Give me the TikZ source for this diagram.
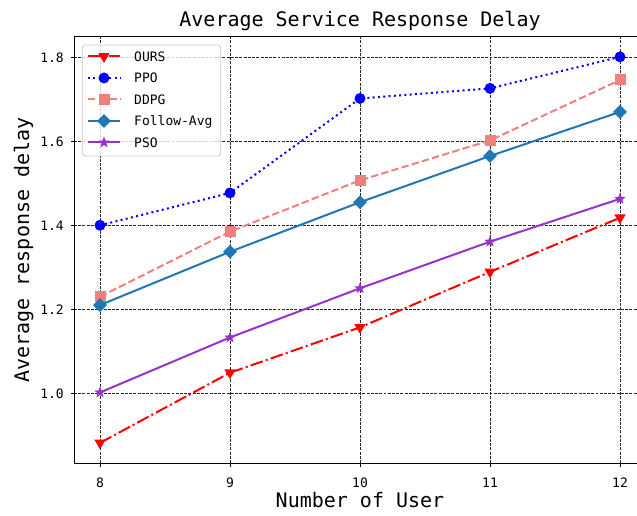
\documentclass[tikz,border=0pt]{standalone}
\usepackage{fontspec}
\setmainfont{DejaVu Sans Mono}
\usetikzlibrary{shapes.geometric,positioning}
\definecolor{tabblue}{RGB}{31,119,180}
\definecolor{lcoral}{RGB}{240,128,128}
\definecolor{dorchid}{RGB}{153,50,204}

\begin{document}
\begin{tikzpicture}[x=1pt,y=1pt,font=\fontsize{13}{15}\selectfont]
\tikzstyle{grd}=[black!85,line width=0.8pt,dash pattern=on 2.96pt off 1.28pt]
\tikzstyle{lours}=[red,line width=2pt,dash pattern=on 12.8pt off 3.2pt on 2pt off 3.2pt]
\tikzstyle{lppo}=[blue,line width=2pt,dash pattern=on 2pt off 3.3pt]
\tikzstyle{lddpg}=[lcoral,line width=2pt,dash pattern=on 7.4pt off 3.2pt]
\tikzstyle{lfa}=[tabblue,line width=2pt]
\tikzstyle{lpso}=[dorchid,line width=2pt]
\tikzstyle{mkours}=[regular polygon,regular polygon sides=3,shape border rotate=180,fill=red,inner sep=0pt,minimum size=13pt]
\tikzstyle{mkppo}=[circle,fill=blue,inner sep=0pt,minimum size=11pt]
\tikzstyle{mkddpg}=[rectangle,fill=lcoral,inner sep=0pt,minimum size=11pt]
\tikzstyle{mkfa}=[diamond,fill=tabblue,inner sep=0pt,minimum size=14pt]
\tikzstyle{mkpso}=[star,star points=5,star point ratio=2.4,fill=dorchid,inner sep=0pt,minimum size=12pt]
\useasboundingbox (0,0) rectangle (637,515);
% grid and tick labels
\foreach \k/\lab in {0/8,1/9,2/10,3/11,4/12}{
  \draw[grd] (100+130*\k,52) -- (100+130*\k,478);
  \draw[line width=0.8pt] (100+130*\k,52) -- (100+130*\k,48.5);
  \node[inner sep=0pt] (xt\k) at (100+130*\k,32) {\lab};}
\foreach \k/\lab in {0/1.0,1/1.2,2/1.4,3/1.6,4/1.8}{
  \draw[grd] (74,121.7+84*\k) -- (637,121.7+84*\k);
  \draw[line width=0.8pt] (74,121.7+84*\k) -- (70.5,121.7+84*\k);
  \node[inner sep=0pt,anchor=east] (yt\k) at (64,121.7+84*\k) {\lab};}
% data
\begin{scope}[x=130pt,y=420pt,xshift=-940pt,yshift=-298.3pt]
\foreach \v [count=\i from 8] in {0.882,1.049,1.157,1.289,1.418} \coordinate (ours\i) at (\i,\v);
\draw[lours] (ours8) -- (ours9) -- (ours10) -- (ours11) -- (ours12);
\foreach \i in {8,...,12} \node[mkours] (oursm\i) at (ours\i) {};
\foreach \v [count=\i from 8] in {1.400,1.477,1.702,1.726,1.801} \coordinate (ppo\i) at (\i,\v);
\draw[lppo] (ppo8) -- (ppo9) -- (ppo10) -- (ppo11) -- (ppo12);
\foreach \i in {8,...,12} \node[mkppo] (ppom\i) at (ppo\i) {};
\foreach \v [count=\i from 8] in {1.230,1.385,1.507,1.602,1.746} \coordinate (ddpg\i) at (\i,\v);
\draw[lddpg] (ddpg8) -- (ddpg9) -- (ddpg10) -- (ddpg11) -- (ddpg12);
\foreach \i in {8,...,12} \node[mkddpg] (ddpgm\i) at (ddpg\i) {};
\foreach \v [count=\i from 8] in {1.210,1.337,1.455,1.565,1.670} \coordinate (fa\i) at (\i,\v);
\draw[lfa] (fa8) -- (fa9) -- (fa10) -- (fa11) -- (fa12);
\foreach \i in {8,...,12} \node[mkfa] (fam\i) at (fa\i) {};
\foreach \v [count=\i from 8] in {1.002,1.133,1.250,1.361,1.463} \coordinate (pso\i) at (\i,\v);
\draw[lpso] (pso8) -- (pso9) -- (pso10) -- (pso11) -- (pso12);
\foreach \i in {8,...,12} \node[mkpso] (psom\i) at (pso\i) {};
\end{scope}
% axes
\draw[line width=1pt] (637,478) -- (74,478) -- (74,52) -- (637,52);
\node[anchor=base,font=\fontsize{20}{24}\selectfont] (title) at (360,488) {Average Service Response Delay};
\node[anchor=base,font=\fontsize{20}{24}\selectfont] (xlab) at (360,8) {Number of User};
\node[anchor=base,rotate=90,font=\fontsize{20}{24}\selectfont] (ylab) at (29,265) {Average response delay};
% legend
\draw[draw=black!20,fill=white,fill opacity=0.8,rounded corners=3pt,line width=0.8pt] (82.3,359) rectangle (220.7,470);
\foreach \k/\nm/\ls/\ms in {0/OURS/lours/mkours,1/PPO/lppo/mkppo,2/DDPG/lddpg/mkddpg,3/Follow-Avg/lfa/mkfa,4/PSO/lpso/mkpso}{
  \coordinate (la\k) at (88,458.5-21.5*\k);
  \coordinate (lb\k) at (120,458.5-21.5*\k);
  \draw[\ls] (la\k) -- (lb\k);
  \node[\ms] (lm\k) at (104,458.5-21.5*\k) {};
  \node[anchor=base west,inner sep=0pt] (lt\k) at (134,453.8-21.5*\k) {\nm};}
\end{tikzpicture}
\end{document}
